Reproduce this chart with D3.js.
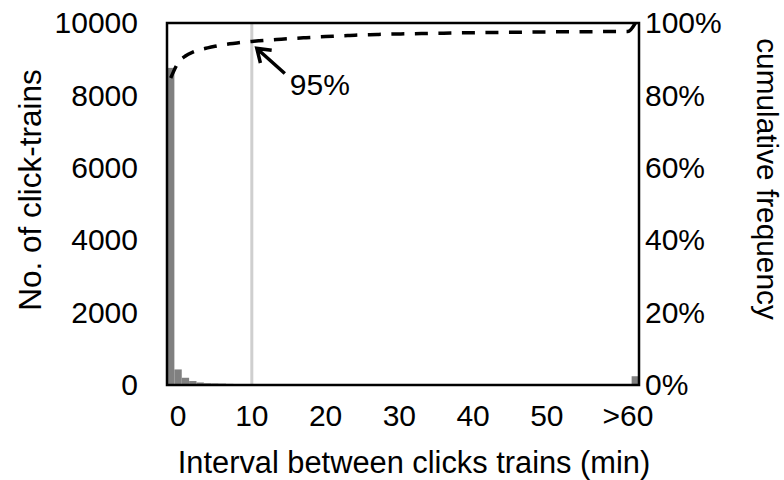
<!DOCTYPE html>
<html>
<head>
<meta charset="utf-8">
<script src="https://cdn.jsdelivr.net/npm/d3@7"></script>
<style>
  body { margin: 0; background: #fff; }
  text { font-family: "Liberation Sans", Arial, sans-serif; fill: #000; }
</style>
</head>
<body>
<div id="chart"></div>
<script>
// number of click-trains per 1-min interval bin (bin 0 first, last bin is the ">60" catch-all)
const counts = [8760, 430, 200, 110, 70, 50, 45, 40, 32, 26,
  22, 20, 18, 16, 15, 14, 14, 13, 13, 12,
  12, 11, 11, 10, 10, 9, 9, 6, 6, 5,
  5, 5, 4, 4, 4, 4, 4, 3, 3, 3,
  3, 3, 3, 3, 2, 2, 2, 2, 2, 2,
  2, 2, 2, 2, 1, 1, 1, 1, 1, 1,
  1, 1, 1, 242];

// which bins carry a category label, and the label text
const xTickBins = [1, 11, 21, 31, 41, 51, 62];
const xTickLabels = ["0", "10", "20", "30", "40", "50", ">60"];
const yTicks = [0, 2000, 4000, 6000, 8000, 10000];
const y2Ticks = [0, 0.2, 0.4, 0.6, 0.8, 1.0];

const markBin = 11;     // bin where cumulative frequency reaches 95%
const markLabel = "95%";

const width = 784, height = 480;
const plotLeft = 167, plotRight = 639, plotTop = 23, plotBottom = 385;
const tickFont = 30;

const bins = d3.range(counts.length);

const svg = d3.select("#chart").append("svg")
  .attr("width", width)
  .attr("height", height);

const x = d3.scaleBand().domain(bins).range([plotLeft, plotRight]).padding(0);
const y = d3.scaleLinear().domain([0, 10000]).range([plotBottom, plotTop]);
const y2 = d3.scaleLinear().domain([0, 1]).range([plotBottom, plotTop]);

const total = d3.sum(counts);
const cum = Array.from(d3.cumsum(counts), v => v / total);

// bars
svg.append("g")
  .selectAll("rect")
  .data(counts)
  .enter().append("rect")
  .attr("x", (d, i) => x(i))
  .attr("width", x.bandwidth())
  .attr("y", d => y(d))
  .attr("height", d => y(0) - y(d))
  .style("fill", "#808080");

// 95% marker line
const mx = x(markBin) + x.bandwidth() / 2;
svg.append("line")
  .attr("x1", mx).attr("x2", mx)
  .attr("y1", plotTop).attr("y2", plotBottom)
  .style("stroke", "#cfcfcf")
  .style("stroke-width", 3);

// cumulative frequency
const line = d3.line()
  .x((d, i) => x(i) + x.bandwidth() / 2)
  .y(d => y2(d))
  .curve(d3.curveMonotoneX);

const cumPath = svg.append("path")
  .attr("d", line(cum))
  .style("fill", "none")
  .style("stroke", "#000")
  .style("stroke-width", 3.5);

// stretch the gaps a little so the pattern starts and ends on a dash
const dash = 13;
const len = cumPath.node().getTotalLength();
const nDash = Math.round((len - dash) / 23);
const gap = (len - dash) / nDash - dash;
cumPath.style("stroke-dasharray", dash + "," + gap);

// plot border
svg.append("rect")
  .attr("x", plotLeft).attr("y", plotTop)
  .attr("width", plotRight - plotLeft).attr("height", plotBottom - plotTop)
  .style("fill", "none")
  .style("stroke", "#000")
  .style("stroke-width", 2.5);

// axes (labels only, no tick marks)
const yAxis = d3.axisLeft(y).tickValues(yTicks).tickSize(0).tickPadding(29)
  .tickFormat(d3.format("d"));
svg.append("g")
  .attr("transform", "translate(" + plotLeft + ",0)")
  .call(yAxis)
  .call(g => g.select(".domain").remove())
  .selectAll("text").style("font-size", tickFont + "px").style("font-family", null);

const y2Axis = d3.axisRight(y2).tickValues(y2Ticks).tickSize(0).tickPadding(6)
  .tickFormat(d3.format(".0%"));
svg.append("g")
  .attr("transform", "translate(" + plotRight + ",0)")
  .call(y2Axis)
  .call(g => g.select(".domain").remove())
  .selectAll("text").style("font-size", tickFont + "px").style("font-family", null);

const xAxis = d3.axisBottom(x).tickValues(xTickBins).tickSize(0).tickPadding(20)
  .tickFormat(d => xTickLabels[xTickBins.indexOf(d)]);
svg.append("g")
  .attr("transform", "translate(0," + plotBottom + ")")
  .call(xAxis)
  .call(g => g.select(".domain").remove())
  .selectAll("text").style("font-size", tickFont + "px").style("font-family", null);

// titles
svg.append("text")
  .attr("x", 414)
  .attr("y", 473)
  .attr("text-anchor", "middle")
  .style("font-size", "30.8px")
  .text("Interval between clicks trains (min)");

svg.append("text")
  .attr("transform", "translate(41,190) rotate(-90)")
  .attr("text-anchor", "middle")
  .style("font-size", "31.5px")
  .text("No. of click-trains");

svg.append("text")
  .attr("transform", "translate(757,179) rotate(90)")
  .attr("text-anchor", "middle")
  .style("font-size", "29.8px")
  .text("cumulative frequency");

// annotation arrow
const py = y2(cum[markBin]);
const tipX = mx + 5, tipY = py + 7;
const tailX = mx + 33, tailY = py + 32;
const ang = Math.atan2(tailY - tipY, tailX - tipX);
const head = 15, spread = 0.6;
svg.append("path")
  .attr("d",
    "M" + tailX + "," + tailY + "L" + tipX + "," + tipY +
    "M" + (tipX + head * Math.cos(ang - spread)) + "," + (tipY + head * Math.sin(ang - spread)) +
    "L" + tipX + "," + tipY +
    "L" + (tipX + head * Math.cos(ang + spread)) + "," + (tipY + head * Math.sin(ang + spread)))
  .style("fill", "none")
  .style("stroke", "#000")
  .style("stroke-width", 3.5);

svg.append("text")
  .attr("x", mx + 38)
  .attr("y", py + 54)
  .style("font-size", tickFont + "px")
  .text(markLabel);
</script>
</body>
</html>
